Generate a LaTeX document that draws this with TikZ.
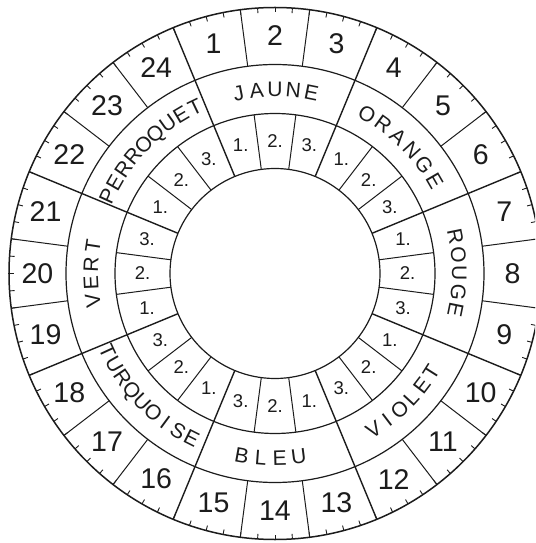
\documentclass[tikz,border=0pt]{standalone}
\usepackage{fontspec}
\setmainfont{Liberation Sans}
\definecolor{ink}{HTML}{1C1C1C}
\newcommand\arcword[6]{%
  \foreach \ch [count=\i] in {#6}{%
    \pgfmathsetmacro\wa{#2+(#5)*(#3)*((#4+1)/2-\i)}%
    \pgfmathsetmacro\wr{\wa-(#5)*90}%
    \node[colorlbl, rotate=\wr] (#1-\i) at (\wa:184.5) {\ch};
  }%
}
\begin{document}
\begin{tikzpicture}[x=1pt,y=1pt,
  ringline/.style={draw=ink, line width=1.2pt},
  outerline/.style={draw=ink, line width=1.5pt},
  spoke/.style={draw=ink, line width=1.4pt},
  divider/.style={draw=ink, line width=1pt},
  tickline/.style={draw=ink, line width=0.9pt},
  num/.style={text=ink, font=\fontsize{28.5}{30}\selectfont, inner sep=0pt},
  sublbl/.style={text=ink, font=\fontsize{18.5}{20}\selectfont, inner sep=0pt},
  colorlbl/.style={text=ink, font=\fontsize{21}{23}\selectfont, inner sep=0pt,
    text height=15pt, text depth=0pt, anchor=center}]
\clip (-275,-269.5) rectangle (260,273.5);
\fill[white] (-275,-269.5) rectangle (260,273.5);
\def\Ro{266}\def\Ri{209}\def\Rc{160}\def\Rn{105}
% circles
\draw[outerline] (0,0) circle (\Ro);
\draw[ringline] (0,0) circle (\Ri);
\draw[ringline] (0,0) circle (\Rc);
\draw[ringline] (0,0) circle (\Rn);
% ticks
\foreach \j in {0,...,95} \draw[tickline] (\j*3.75:\Ro) -- (\j*3.75:\Ro-5);
% spokes and dividers
\foreach \k in {0,...,7}{
  \draw[spoke] (22.5+45*\k:\Rn) -- (22.5+45*\k:\Ro);
  \foreach \s in {15,30}{
    \draw[divider] (22.5+45*\k+\s:\Ri) -- (22.5+45*\k+\s:\Ro);
    \draw[divider] (22.5+45*\k+\s:\Rn) -- (22.5+45*\k+\s:\Rc);
  }
}
% numbers 1..24
\foreach \k in {1,...,24} \node[num] (n\k) at (120-15*\k:237.5) {\k};
% inner sub labels
\foreach \c in {0,...,7}
  \foreach \i in {1,2,3}
    \node[sublbl] (s\c-\i) at ({90-45*\c+15*(2-\i)}:132.5) {\i.};
% colour names
\arcword{JAUNE}{90}{5.7}{5}{1}{J,A,U,N,E}
\arcword{ORANGE}{45}{6}{6}{1}{O,R,A,N,G,E}
\arcword{ROUGE}{0}{5.75}{5}{1}{R,O,U,G,E}
\arcword{VIOLET}{-45}{5.1}{6}{-1}{V,I,O,L,E,T}
\arcword{BLEU}{-91.5}{5.9}{4}{-1}{B,L,E,U}
\arcword{TURQUOISE}{-136}{4.8}{9}{-1}{T,U,R,Q,U,O,I,S,E}
\arcword{VERT}{180}{5.75}{4}{1}{V,E,R,T}
\arcword{PERROQUET}{135.5}{4.95}{9}{1}{P,E,R,R,O,Q,U,E,T}
\end{tikzpicture}
\end{document}
